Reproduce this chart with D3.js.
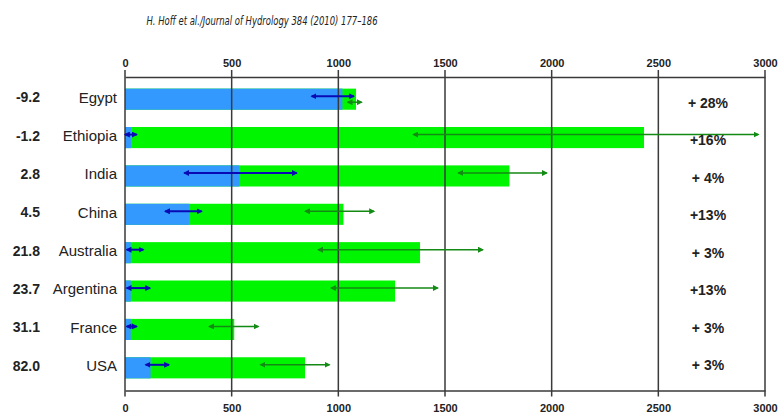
<!DOCTYPE html>
<html>
<head>
<meta charset="utf-8">
<script src="https://cdn.jsdelivr.net/npm/d3@7"></script>
<style>
  body { margin: 0; background: #fff; }
  svg { display: block; }
  .tick text { font-family: "Liberation Sans", Arial, sans-serif; font-weight: bold; font-size: 11px; fill: #222; }
</style>
</head>
<body>
<div id="chart"></div>
<script>
// data (m3 per capita per year)
var countries = ["Egypt", "Ethiopia", "India", "China", "Australia", "Argentina", "France", "USA"];
var leftValues = ["-9.2", "-1.2", "2.8", "4.5", "21.8", "23.7", "31.1", "82.0"];
var blueValues = [1019, 28, 536, 302, 27, 27, 27, 120];
var totalValues = [1083, 2433, 1802, 1024, 1383, 1266, 512, 844];
var blueLow = [875, 0, 278, 188, 8, 8, 8, 97];
var blueHigh = [1073, 55, 805, 359, 86, 117, 55, 206];
var greenLow = [1044, 1352, 1563, 845, 906, 966, 395, 636];
var greenHigh = [1109, 2969, 1977, 1167, 1677, 1466, 625, 958];
var changes = ["+ 28%", "+16%", "+ 4%", "+13%", "+ 3%", "+13%", "+ 3%", "+ 3%"];
var xTicks = [0, 500, 1000, 1500, 2000, 2500, 3000];

var width = 778, height = 413;
var axisTopY = 77, axisBottomY = 390.5;

var svg = d3.select("#chart").append("svg")
    .attr("width", width)
    .attr("height", height);

var x = d3.scaleLinear().domain([0, 3000]).range([125, 765]);
var y = d3.scaleBand().domain(countries).range([80, 387])
    .paddingInner(0.45).paddingOuter(0.225);
// right-hand labels sit on their own slightly tighter grid
var yRight = d3.scalePoint().domain(countries).range([103, 365]);

var rows = countries.map(function(c, i) {
  return {
    country: c, left: leftValues[i], blue: blueValues[i], total: totalValues[i],
    bLo: blueLow[i], bHi: blueHigh[i], gLo: greenLow[i], gHi: greenHigh[i],
    change: changes[i]
  };
});

// header line
svg.append("text")
    .attr("x", 262).attr("y", 25)
    .attr("text-anchor", "middle")
    .attr("textLength", 231).attr("lengthAdjust", "spacingAndGlyphs")
    .style("font-family", "'DejaVu Sans Condensed', 'DejaVu Sans', sans-serif")
    .style("font-style", "italic")
    .style("font-size", "13px")
    .style("fill", "#222")
    .text("H. Hoff et al./Journal of Hydrology 384 (2010) 177\u2013186");

// arrow heads
var defs = svg.append("defs");
[["blueHead", "#0a0ab4"], ["greenHead", "#138a13"]].forEach(function(m) {
  defs.append("marker")
      .attr("id", m[0])
      .attr("viewBox", "0 0 10 10")
      .attr("refX", 8).attr("refY", 5)
      .attr("markerWidth", 6).attr("markerHeight", 6)
      .attr("markerUnits", "userSpaceOnUse")
      .attr("orient", "auto-start-reverse")
    .append("path")
      .attr("d", "M0,0L10,5L0,10Z")
      .attr("fill", m[1]);
});

// bars
var bars = svg.append("g").attr("class", "bars");
bars.selectAll("rect.green").data(rows).enter().append("rect")
    .attr("class", "green")
    .attr("x", x(0))
    .attr("y", function(d) { return y(d.country); })
    .attr("width", function(d) { return x(d.total) - x(0); })
    .attr("height", y.bandwidth())
    .attr("fill", "#00f500");
bars.selectAll("rect.blue").data(rows).enter().append("rect")
    .attr("class", "blue")
    .attr("x", x(0))
    .attr("y", function(d) { return y(d.country); })
    .attr("width", function(d) { return x(d.blue) - x(0); })
    .attr("height", y.bandwidth())
    .attr("fill", "#3399ff");

// grid lines (incl. outer ticks above / below the axes)
svg.append("g").selectAll("line").data(xTicks).enter().append("line")
    .attr("x1", function(d) { return x(d); })
    .attr("x2", function(d) { return x(d); })
    .attr("y1", axisTopY - 7)
    .attr("y2", axisBottomY + 6)
    .attr("stroke", "#3a3a3a")
    .attr("stroke-width", 1.5);

var fmt = d3.format("d");
var topAxis = svg.append("g")
    .attr("transform", "translate(0," + axisTopY + ")")
    .call(d3.axisTop(x).tickValues(xTicks).tickFormat(fmt).tickSize(0).tickPadding(10));
var bottomAxis = svg.append("g")
    .attr("transform", "translate(0," + axisBottomY + ")")
    .call(d3.axisBottom(x).tickValues(xTicks).tickFormat(fmt).tickSize(0).tickPadding(14));
[topAxis, bottomAxis].forEach(function(a) {
  a.select(".domain").attr("stroke", "#3a3a3a").attr("stroke-width", 1.5);
});

// range arrows
function center(d) { return y(d.country) + y.bandwidth() / 2; }
var arrows = svg.append("g").attr("class", "arrows");
arrows.selectAll("line.blue").data(rows).enter().append("line")
    .attr("x1", function(d) { return x(d.bLo); })
    .attr("x2", function(d) { return x(d.bHi); })
    .attr("y1", function(d) { return center(d) - 3; })
    .attr("y2", function(d) { return center(d) - 3; })
    .attr("stroke", "#0a0ab4").attr("stroke-width", 2)
    .attr("marker-start", "url(#blueHead)")
    .attr("marker-end", "url(#blueHead)");
arrows.selectAll("line.green").data(rows).enter().append("line")
    .attr("x1", function(d) { return x(d.gLo); })
    .attr("x2", function(d) { return x(d.gHi); })
    .attr("y1", function(d) { return center(d) + (d.gLo < d.bHi ? 3 : -3); })
    .attr("y2", function(d) { return center(d) + (d.gLo < d.bHi ? 3 : -3); })
    .attr("stroke", "#138a13").attr("stroke-width", 1.5)
    .attr("marker-start", "url(#greenHead)")
    .attr("marker-end", "url(#greenHead)");

// left labels
var labels = svg.append("g")
    .style("font-family", "'Liberation Sans', Arial, sans-serif")
    .style("fill", "#222");
labels.selectAll("text.country").data(rows).enter().append("text")
    .attr("x", 117)
    .attr("y", function(d) { return center(d) - 2; })
    .attr("dy", "0.36em")
    .attr("text-anchor", "end")
    .style("font-size", "15px")
    .text(function(d) { return d.country; });
labels.selectAll("text.val").data(rows).enter().append("text")
    .attr("x", 40)
    .attr("y", function(d) { return center(d) - 2; })
    .attr("dy", "0.36em")
    .attr("text-anchor", "end")
    .style("font-size", "14px")
    .style("font-weight", "bold")
    .text(function(d) { return d.left; });

// right-hand change labels
labels.selectAll("text.change").data(rows).enter().append("text")
    .attr("x", 708)
    .attr("y", function(d) { return yRight(d.country); })
    .attr("dy", "0.36em")
    .attr("text-anchor", "middle")
    .style("font-size", "14px")
    .style("font-weight", "bold")
    .text(function(d) { return d.change; });
</script>
</body>
</html>
